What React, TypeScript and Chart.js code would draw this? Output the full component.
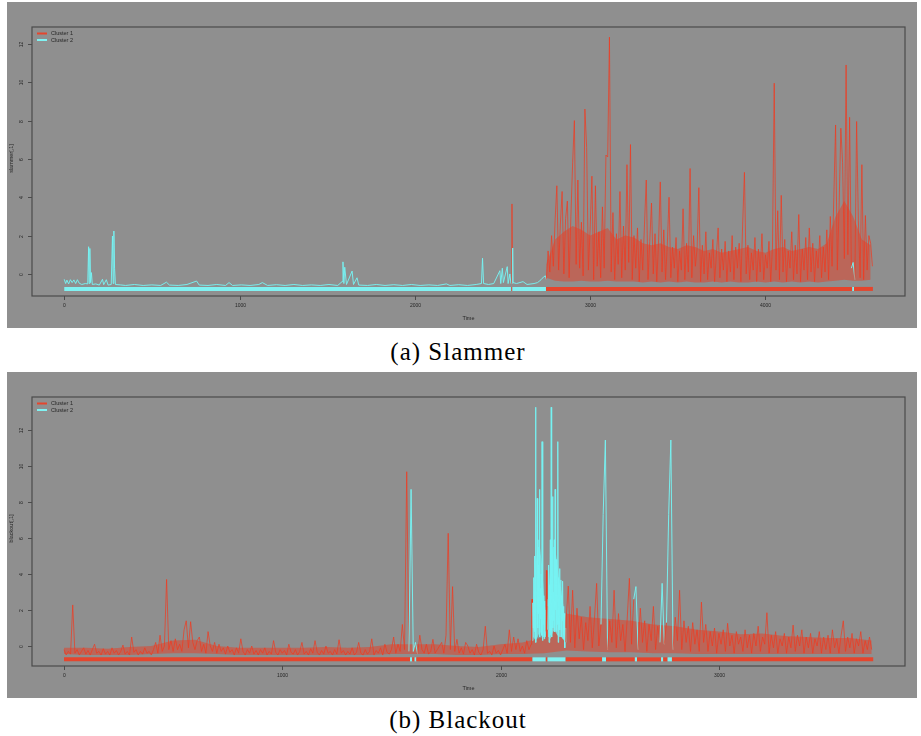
import React, { useEffect, useRef } from "react";
import { Chart, registerables } from "chart.js";
Chart.register(...registerables);

// ---------------- DATA ----------------
// (a) Slammer: quiet part as [time, value]
const slammerCalm: [number, number][] = [
  [0,-0.28],[8,-0.5],[15,-0.32],[25,-0.52],[35,-0.3],[45,-0.45],[55,-0.31],[65,-0.5],[75,-0.3],[85,-0.48],
  [100,-0.55],[120,-0.5],[134,-0.52],[139,1.42],[142,-0.5],[146,1.33],[150,-0.45],[155,0.07],[160,-0.55],[180,-0.52],
  [200,-0.58],[218,-0.28],[225,-0.56],[240,-0.3],[250,-0.58],[268,-0.55],[275,1.98],[279,-0.5],[283,2.24],[287,0.3],
  [292,-0.55],[320,-0.57],[350,-0.6],[400,-0.55],[450,-0.6],[500,-0.57],[550,-0.6],[583,-0.43],[600,-0.58],[650,-0.6],
  [700,-0.55],[755,-0.37],[770,-0.58],[820,-0.6],[870,-0.55],[920,-0.6],[940,-0.45],[960,-0.6],[1010,-0.57],[1060,-0.6],
  [1110,-0.55],[1130,-0.45],[1160,-0.6],[1210,-0.56],[1260,-0.6],[1310,-0.55],[1360,-0.6],[1410,-0.57],[1460,-0.6],[1510,-0.55],
  [1560,-0.6],[1585,-0.4],[1590,0.63],[1595,-0.5],[1600,0.35],[1610,-0.55],[1642,0.15],[1650,-0.55],[1670,-0.2],[1680,-0.58],
  [1730,-0.6],[1780,-0.55],[1830,-0.6],[1880,-0.56],[1930,-0.6],[1980,-0.55],[2030,-0.6],[2080,-0.57],[2130,-0.6],[2180,-0.52],
  [2200,-0.6],[2250,-0.56],[2300,-0.6],[2350,-0.55],[2380,-0.5],[2386,0.82],[2392,-0.5],[2420,-0.55],[2450,-0.5],[2485,0.17],
  [2490,-0.5],[2499,0.3],[2505,-0.45],[2527,0.38],[2532,-0.5],[2542,0.0],[2548,-0.5],[2552,-0.5],[2554,3.65],[2556,-0.5],
  [2558,1.35],[2560,-0.45],[2580,-0.5],[2617,-0.4],[2640,-0.55],[2680,-0.5],[2700,-0.45],[2720,-0.3],[2735,-0.15],[2745,-0.1],
];
// (a) Slammer: active part, one value every 10 time steps from t = 2750
const slammerBurstStart = 2750;
const slammerBurstStep = 10;
const slammerBurst: number[] = [
  -0.3, 1.2, 0.1, 2.0, 0.4, 2.8, 4.6, 0.2, 2.6, 4.3,
  0.0, 2.9, 3.8, -0.2, 3.0, 5.8, 8.0, 0.5, 4.9, 0.3,
  2.7, -0.1, 8.6, 6.6, 0.2, 2.4, 5.1, -0.3, 4.6, 0.4,
  2.2, -0.2, 3.5, 0.3, 6.2, 6.1, 12.35, 0.1, 3.2, -0.3,
  2.1, 0.5, 4.3, -0.2, 2.5, 0.2, 5.7, 0.6, 6.75, -0.3,
  2.0, 0.3, 2.4, -0.4, 1.8, 0.2, 2.6, 4.9, -0.3, 1.7,
  3.7, 0.0, 2.1, -0.4, 1.6, 4.8, 0.1, 2.3, -0.3, 1.5,
  4.0, -0.2, 1.4, 0.3, 1.9, -0.4, 1.2, 0.2, 3.4, -0.3,
  1.6, 0.1, 5.5, -0.2, 2.0, 0.4, 1.3, 4.5, -0.4, 1.5,
  0.0, 2.2, -0.3, 1.1, 0.3, 1.8, -0.4, 1.0, 2.4, -0.2,
  1.3, 0.2, 1.7, -0.4, 1.2, 0.1, 2.0, -0.3, 1.4, 0.3,
  1.6, -0.4, 2.6, 5.3, 0.0, 1.5, -0.3, 1.1, 0.2, 1.9,
  -0.4, 1.3, 0.1, 2.1, -0.3, 1.0, 0.3, 1.7, -0.4, 1.4,
  9.95, 0.2, 3.3, -0.3, 4.1, 0.1, 1.8, -0.4, 1.2, 0.3,
  2.2, -0.3, 1.5, 0.0, 3.1, -0.4, 1.3, 0.2, 1.9, -0.3,
  2.4, 0.1, 1.6, -0.4, 1.2, 0.3, 2.0, -0.2, 1.4, 0.1,
  2.3, -0.3, 3.0, 0.4, 4.0, 7.77, 0.2, 3.5, 7.6, 5.8,
  0.8, 10.9, 1.0, 8.17, 0.3, 0.6, -0.3, 7.95, 2.8, -0.2,
  5.7, -0.3, 3.05, 0.2, 2.0, 1.6, 0.4,
];
// dense core of the active part (lower / upper edge), every 50 steps from t = 2750
const slammerCoreStart = 2750;
const slammerCoreStep = 50;
const slammerCoreLow: number[] = [
  -0.2, -0.35, -0.4, -0.4, -0.35, -0.4, -0.4, -0.35, -0.4, -0.4,
  -0.4, -0.45, -0.4, -0.45, -0.4, -0.45, -0.4, -0.45, -0.45, -0.4,
  -0.45, -0.4, -0.45, -0.45, -0.4, -0.45, -0.4, -0.45, -0.4, -0.45,
  -0.4, -0.45, -0.4, -0.35, -0.3, -0.35, -0.35, -0.3,
];
const slammerCoreHigh: number[] = [
  0.5, 1.8, 2.2, 2.5, 2.3, 2.0, 2.2, 2.4, 1.8, 2.0,
  1.9, 1.6, 1.5, 1.6, 1.4, 1.3, 1.5, 1.4, 1.2, 1.3,
  1.1, 1.2, 1.3, 1.4, 1.2, 1.1, 1.3, 1.4, 1.2, 1.3,
  1.4, 1.3, 1.6, 3.0, 3.8, 3.0, 1.8, 1.5,
];
// cluster membership over time: [from, to, cluster]
const slammerClusters: [number, number, number][] = [
  [0, 2550, 2], [2550, 2556, 1], [2556, 2748, 2], [2748, 4495, 1], [4495, 4505, 2], [4505, 4613, 1],
];

// (b) Blackout: calm part, every 10 steps from t = 0
const blackoutCalmStart = 0;
const blackoutCalmStep = 10;
const blackoutCalm: number[] = [
  -0.2, -0.5, -0.3, -0.45, 2.28, -0.4, -0.2, -0.5, -0.3, -0.1,
  -0.45, -0.25, -0.5, -0.2, 0.1, -0.4, -0.3, -0.5, -0.15, -0.45,
  -0.3, -0.5, -0.1, -0.4, -0.25, -0.5, -0.3, 0.05, -0.45, -0.3,
  -0.5, 0.5, -0.35, -0.2, -0.5, -0.3, -0.45, -0.1, -0.4, -0.3,
  -0.5, -0.2, 0.2, -0.4, 0.6, -0.3, 0.0, 3.7, -0.2, 0.3,
  -0.3, 0.4, -0.2, 0.1, -0.3, 0.9, 1.4, -0.1, 1.35, 0.2,
  -0.2, 0.3, 0.5, -0.3, 0.1, -0.4, 0.8, 0.0, -0.3, 0.2,
  -0.4, 0.1, -0.3, -0.1, -0.45, 0.0, -0.35, -0.2, -0.5, -0.1,
  -0.4, 0.4, -0.3, -0.5, -0.2, -0.4, 0.0, -0.45, -0.25, -0.5,
  -0.2, -0.4, -0.1, -0.5, -0.3, -0.45, 0.3, -0.35, -0.5, -0.2,
  -0.4, -0.25, -0.5, 0.1, -0.35, -0.45, -0.2, -0.5, -0.3, 0.2,
  -0.45, -0.3, -0.5, -0.15, -0.4, 0.3, -0.35, -0.5, -0.25, -0.45,
  0.0, -0.4, -0.3, -0.5, -0.2, -0.45, 0.35, -0.4, -0.25, -0.5,
  -0.3, -0.45, -0.1, -0.5, -0.35, 0.2, -0.4, -0.5, -0.2, -0.45,
  -0.3, 0.4, -0.5, -0.25, -0.4, -0.1, -0.5, 0.1, -0.35, -0.45,
  -0.2, 0.5, -0.4, 0.1, -0.3, 1.2, -0.2, 9.68, -0.3, 8.7,
  -0.3, 0.2, -0.45, 0.6, -0.2, -0.4, 0.1, -0.45, -0.3, 0.37,
  -0.4, -0.2, 0.0, 0.2, -0.4, 0.6, 6.26, -0.2, 3.3, -0.3,
  0.37, -0.4, -0.1, -0.45, 0.2, 0.0, -0.4, -0.2, -0.5, 0.1,
  -0.35, -0.5, -0.2, 1.1, -0.4, -0.3, -0.5, 0.0, -0.4, -0.25,
  -0.5, -0.2, 0.1, -0.4, 0.9, -0.3, 0.5, -0.2, 0.4, -0.3,
  0.0, -0.4, 0.3, -0.2,
];
// (b) Blackout: burst, every 2 steps from t = 2140
const blackoutBurstStart = 2140;
const blackoutBurstStep = 2;
const blackoutBurst: number[] = [
  0.1, 1.2, 2.6, 0.3, 2.4, 1.0, 3.8, 0.8, 5.0, 2.0,
  13.26, 0.2, 3.0, 6.0, 8.2, 1.0, 4.5, 1.8, 5.9, 8.7,
  0.5, 3.2, 1.5, 4.0, 0.6, 11.35, 0.3, 3.5, 1.2, 2.8,
  0.4, 2.5, 1.0, 2.0, 0.8, 4.2, 0.5, 2.2, 0.9, 2.6,
  4.5, 0.2, 3.4, 1.5, 5.9, 0.6, 13.26, 0.5, 4.0, 8.3,
  1.0, 3.0, 1.4, 5.9, 0.8, 8.7, 2.0, 4.8, 0.8, 3.5,
  1.2, 11.35, 0.2, 3.8, 1.0, 4.3, 0.9, 2.5, 3.67, 0.5,
  2.8, 1.4, 3.6, 0.4, 2.2, 0.6, 1.8, -0.1, 1.0, 0.2,
  1.4,
];
// (b) Blackout: after the burst, every 10 steps from t = 2310
const blackoutTailStart = 2310;
const blackoutTailStep = 10;
const blackoutTail: number[] = [
  3.33, 0.2, 3.1, -0.1, 2.1, 0.4, 1.6, -0.2, 1.3, 0.3,
  2.2, -0.1, 1.5, 3.48, 0.0, 1.2, 7.3, 11.44, -0.2, 1.4,
  0.2, 3.1, -0.1, 1.8, 0.3, 1.2, -0.3, 1.5, 3.76, 0.1,
  2.6, 3.3, -0.2, 2.1, 0.2, 1.4, -0.3, 1.2, 0.3, 2.2,
  -0.2, 1.1, 0.2, 3.48, 0.1, 1.3, 7.3, 11.44, -0.2, 1.6,
  0.3, 3.1, -0.2, 1.4, 0.2, 1.1, -0.3, 1.3, 0.1, 0.9,
  -0.3, 2.44, 0.2, 1.2, -0.3, 0.8, 0.0, 1.0, -0.4, 0.7,
  0.1, 0.9, -0.3, 1.26, 0.0, 0.6, -0.4, 0.8, 0.1, 0.5,
  -0.3, 0.9, -0.1, 0.6, -0.4, 0.7, 0.0, 1.1, -0.3, 0.5,
  0.1, 1.85, -0.4, 0.6, -0.1, 0.8, -0.4, 0.4, 0.0, 0.7,
  -0.4, 0.5, -0.1, 1.16, -0.3, 0.6, 0.0, 0.9, -0.4, 0.5,
  -0.1, 0.7, -0.4, 0.4, 0.0, 0.8, -0.4, 0.5, -0.2, 0.6,
  -0.4, 0.9, -0.1, 0.4, -0.4, 0.6, 1.4, -0.3, 0.5, -0.1,
  0.7, -0.4, 0.4, 0.0, 0.8, -0.4, 0.3, -0.2, 0.5, -0.2,
];
// (b) Blackout: dense red core, every 100 steps from t = 0
const blackoutCoreStart = 0;
const blackoutCoreStep = 100;
const blackoutCoreLow: number[] = [
  -0.45, -0.5, -0.5, -0.5, -0.45, -0.4, -0.4, -0.45, -0.5, -0.5,
  -0.5, -0.5, -0.5, -0.5, -0.5, -0.45, -0.45, -0.45, -0.5, -0.5,
  -0.45, -0.45, -0.4, -0.25, -0.3, -0.35, -0.35, -0.4, -0.4, -0.45,
  -0.45, -0.45, -0.45, -0.45, -0.45, -0.45, -0.45, -0.45,
];
const blackoutCoreHigh: number[] = [
  -0.1, -0.1, -0.15, -0.05, 0.0, 0.3, 0.35, 0.0, -0.1, -0.1,
  -0.1, -0.1, -0.05, -0.1, -0.05, 0.1, 0.1, 0.1, 0.0, -0.05,
  0.1, 0.2, 0.5, 1.8, 1.6, 1.5, 1.4, 1.2, 1.1, 0.9,
  0.8, 0.65, 0.7, 0.55, 0.5, 0.45, 0.45, 0.3,
];
// (b) Blackout: dense cyan core of the burst
const blackoutCyanT: number[] = [2146, 2150, 2160, 2170, 2180, 2190, 2200, 2206, 2210, 2216, 2220, 2230, 2240, 2250, 2260, 2270, 2280, 2290, 2298];
const blackoutCyanLow: number[] = [0.3, 0.5, 0.3, 0.5, 0.8, 0.5, 0.5, 0.5, 0.5, 0.5, 0.5, 0.4, 0.8, 0.8, 0.6, 0.5, 0.5, 0.3, 0.2];
const blackoutCyanHigh: number[] = [1.0, 2.5, 4.5, 5.5, 5.5, 4.5, 2.5, 2.0, 1.0, 2.0, 3.0, 5.0, 5.5, 5.5, 4.5, 3.5, 3.0, 2.0, 0.8];
const blackoutClusters: [number, number, number][] = [
  [0, 1585, 1], [1585, 1595, 2], [1595, 1606, 1], [1606, 1614, 2], [1614, 2146, 1],
  [2146, 2207, 2], [2207, 2215, 1], [2215, 2298, 2], [2298, 2465, 1], [2465, 2483, 2],
  [2483, 2615, 1], [2615, 2625, 2], [2625, 2735, 1], [2735, 2745, 2], [2745, 2765, 1],
  [2765, 2785, 2], [2785, 3707, 1],
];

const slammerXTicks = [0, 1000, 2000, 3000, 4000];
const blackoutXTicks = [0, 1000, 2000, 3000];
const yTicks = [0, 2, 4, 6, 8, 10, 12];
const legendLabels = ["Cluster 1", "Cluster 2"];

// ---------------- STYLE ----------------
const BG = "#8f8f8f";
const RED_LINE = "rgba(240,58,32,0.72)";
const CYAN_LINE = "rgba(118,242,242,0.95)";
const RED_FILL = "rgba(232,62,36,0.5)";
const CYAN_FILL = "rgba(120,240,240,0.75)";
const RED_BAR = "#e5452d";
const CYAN_BAR = "#80f2f2";
const SANS = '"Liberation Sans", Arial, sans-serif';

type Pt = { x: number; y: number };
type Cl = [number, number, number][];
type Band = { t: number[]; lo: number[]; hi: number[]; color: string };

function clusterAt(cl: Cl, t: number): number {
  for (const [s, e, c] of cl) if (t >= s && t < e) return c;
  return 1;
}

function regular(start: number, step: number, vals: number[]): Pt[] {
  return vals.map((y, i) => ({ x: start + i * step, y }));
}
function times(start: number, step: number, n: number): number[] {
  return Array.from({ length: n }, (_, i) => start + i * step);
}

const slammerPoints: Pt[] = [
  ...slammerCalm.map(([x, y]) => ({ x, y })),
  ...regular(slammerBurstStart, slammerBurstStep, slammerBurst),
];
const blackoutPoints: Pt[] = [
  ...regular(blackoutCalmStart, blackoutCalmStep, blackoutCalm),
  ...regular(blackoutBurstStart, blackoutBurstStep, blackoutBurst),
  ...regular(blackoutTailStart, blackoutTailStep, blackoutTail),
];
const slammerBands: Band[] = [
  { t: times(slammerCoreStart, slammerCoreStep, slammerCoreLow.length), lo: slammerCoreLow, hi: slammerCoreHigh, color: RED_FILL },
];
const blackoutBands: Band[] = [
  { t: blackoutCyanT, lo: blackoutCyanLow, hi: blackoutCyanHigh, color: CYAN_FILL },
  { t: times(blackoutCoreStart, blackoutCoreStep, blackoutCoreLow.length), lo: blackoutCoreLow, hi: blackoutCoreHigh, color: RED_FILL },
];

type PanelProps = {
  points: Pt[];
  clusters: Cl;
  bands: Band[];
  xMin: number; xMax: number; yMin: number; yMax: number;
  xTicks: number[];
  yTitle: string;
  barY: number;
};

function Panel(p: PanelProps) {
  const ref = useRef<HTMLCanvasElement | null>(null);
  useEffect(() => {
    const canvas = ref.current;
    if (!canvas) return;
    const pts = p.points;
    const barPts: Pt[] = p.clusters.map(([s]) => ({ x: s, y: p.barY }));
    barPts.push({ x: p.clusters[p.clusters.length - 1][1], y: p.barY });

    const frame = {
      id: "frame",
      beforeDraw(chart: any) {
        const ctx = chart.ctx;
        ctx.save();
        ctx.fillStyle = BG;
        ctx.fillRect(0, 0, chart.width, chart.height);
        ctx.restore();
      },
      afterDraw(chart: any) {
        const { ctx, chartArea: a, scales } = chart;
        const xs = scales.x, ys = scales.y;
        ctx.save();
        ctx.strokeStyle = "#4b4b4b";
        ctx.lineWidth = 1.2;
        ctx.strokeRect(a.left, a.top, a.right - a.left, a.bottom - a.top);
        ctx.fillStyle = "#262626";
        ctx.font = "5px " + SANS;
        ctx.textAlign = "center";
        ctx.textBaseline = "middle";
        ctx.lineWidth = 1;
        for (const t of p.xTicks) {
          const px = Math.round(xs.getPixelForValue(t)) + 0.5;
          ctx.beginPath();
          ctx.moveTo(px, a.bottom);
          ctx.lineTo(px, a.bottom + 4);
          ctx.stroke();
          ctx.fillText(String(t), px, a.bottom + 10);
        }
        for (const t of yTicks) {
          const py = Math.round(ys.getPixelForValue(t)) + 0.5;
          ctx.beginPath();
          ctx.moveTo(a.left - 4, py);
          ctx.lineTo(a.left, py);
          ctx.stroke();
          ctx.save();
          ctx.translate(a.left - 10, py);
          ctx.rotate(-Math.PI / 2);
          ctx.fillText(String(t), 0, 0);
          ctx.restore();
        }
        ctx.font = "5.5px " + SANS;
        ctx.fillText("Time", (a.left + a.right) / 2, a.bottom + 22);
        ctx.save();
        ctx.translate(a.left - 21, (a.top + a.bottom) / 2 - 3);
        ctx.rotate(-Math.PI / 2);
        ctx.fillText(p.yTitle, 0, 0);
        ctx.restore();
        // legend
        const cols = [RED_BAR, CYAN_BAR];
        ctx.textAlign = "left";
        ctx.font = "5.5px " + SANS;
        legendLabels.forEach((lab, i) => {
          const ly = a.top + 6.5 + i * 6.5;
          ctx.strokeStyle = cols[i];
          ctx.lineWidth = 2;
          ctx.beginPath();
          ctx.moveTo(a.left + 5, ly);
          ctx.lineTo(a.left + 15, ly);
          ctx.stroke();
          ctx.fillStyle = "#262626";
          ctx.fillText(lab, a.left + 19, ly);
        });
        ctx.restore();
      },
    };

    const datasets: any[] = [
      {
        data: barPts,
        borderWidth: 4,
        borderCapStyle: "butt",
        pointRadius: 0,
        tension: 0,
        fill: false,
        borderColor: RED_BAR,
        segment: {
          borderColor: (ctx: any) =>
            p.clusters[ctx.p0DataIndex][2] === 2 ? CYAN_BAR : RED_BAR,
        },
      },
      {
        data: pts,
        borderWidth: 1,
        borderJoinStyle: "bevel",
        pointRadius: 0,
        tension: 0,
        fill: false,
        borderColor: RED_LINE,
        segment: {
          borderColor: (ctx: any) => {
            const a0 = pts[ctx.p0DataIndex], b0 = pts[ctx.p1DataIndex];
            const q = b0.y > a0.y ? b0 : a0;
            return clusterAt(p.clusters, q.x) === 2 ? CYAN_LINE : RED_LINE;
          },
        },
      },
    ];
    p.bands.forEach((b) => {
      datasets.push({
        data: b.t.map((x, i) => ({ x, y: b.hi[i] })),
        borderWidth: 0,
        pointRadius: 0,
        tension: 0,
        borderColor: "rgba(0,0,0,0)",
        backgroundColor: b.color,
        fill: "+1",
      });
      datasets.push({
        data: b.t.map((x, i) => ({ x, y: b.lo[i] })),
        borderWidth: 0,
        pointRadius: 0,
        tension: 0,
        borderColor: "rgba(0,0,0,0)",
        fill: false,
      });
    });

    const chart = new Chart(canvas, {
      type: "line",
      data: { datasets },
      options: {
        animation: false,
        responsive: false,
        maintainAspectRatio: false,
        devicePixelRatio: 1,
        events: [],
        layout: { padding: { left: 25, top: 25, right: 12, bottom: 32 } },
        plugins: { legend: { display: false }, tooltip: { enabled: false } },
        scales: {
          x: { type: "linear", min: p.xMin, max: p.xMax, display: false },
          y: { type: "linear", min: p.yMin, max: p.yMax, display: false },
        },
      },
      plugins: [frame],
    } as any);
    return () => chart.destroy();
  }, []);
  return <canvas ref={ref} width={910} height={326} style={{ display: "block", width: 910, height: 326 }} />;
}

const captionStyle: React.CSSProperties = {
  position: "absolute",
  left: 0,
  width: 916,
  textAlign: "center",
  fontFamily: '"Liberation Serif", "Times New Roman", serif',
  fontSize: 25,
  letterSpacing: 1,
  color: "#000",
  lineHeight: "30px",
};

export default function App() {
  return (
    <div style={{ position: "absolute", left: 0, top: 0, width: 921, height: 736, background: "#fff", overflow: "hidden" }}>
      <div style={{ position: "absolute", left: 7, top: 2 }}>
        <Panel points={slammerPoints} clusters={slammerClusters} bands={slammerBands} xMin={-184} xMax={4796} yMin={-1.15} yMax={12.88}
          xTicks={slammerXTicks} yTitle="slammer[,1]" barY={-0.78} />
      </div>
      <div style={{ ...captionStyle, top: 337 }}>(a) Slammer</div>
      <div style={{ position: "absolute", left: 7, top: 372 }}>
        <Panel points={blackoutPoints} clusters={blackoutClusters} bands={blackoutBands} xMin={-146.6} xMax={3852.6} yMin={-1.11} yMax={13.83}
          xTicks={blackoutXTicks} yTitle="blackout[,1]" barY={-0.74} />
      </div>
      <div style={{ ...captionStyle, top: 705 }}>(b) Blackout</div>
    </div>
  );
}
